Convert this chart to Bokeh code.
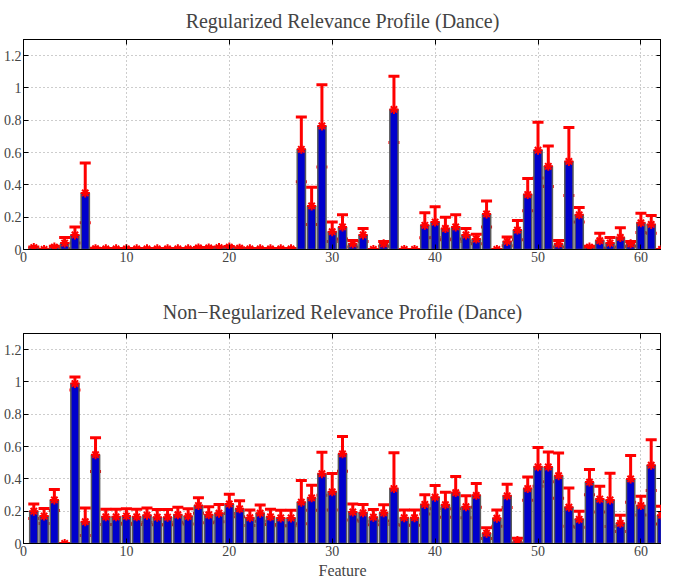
from bokeh.plotting import figure
from bokeh.models import (ColumnDataSource, Range1d, FixedTicker, LinearAxis,
                          Whisker, TeeHead)
from bokeh.layouts import column
from bokeh.embed import file_html
from bokeh.resources import INLINE

features = list(range(1, 63))

reg_vals = [0.012, 0.0, 0.015, 0.04, 0.09, 0.35, 0.005, 0.004, 0.004, 0.004,
            0.004, 0.004, 0.004, 0.004, 0.004, 0.004, 0.01, 0.01, 0.012, 0.015,
            0.008, 0.004, 0.004, 0.004, 0.004, 0.004, 0.62, 0.27, 0.765, 0.11,
            0.14, 0.035, 0.09, 0.0, 0.035, 0.867, 0.0, 0.0, 0.15, 0.17,
            0.13, 0.14, 0.09, 0.065, 0.22, 0.0, 0.05, 0.12, 0.34, 0.615,
            0.515, 0.035, 0.545, 0.215, 0.015, 0.055, 0.04, 0.075, 0.035, 0.165,
            0.155, 0.0]
reg_errs = [0.004, 0.0, 0.005, 0.035, 0.05, 0.185, 0.002, 0.002, 0.002, 0.002,
            0.002, 0.002, 0.002, 0.002, 0.002, 0.002, 0.003, 0.003, 0.003, 0.004,
            0.003, 0.002, 0.002, 0.002, 0.002, 0.002, 0.2, 0.115, 0.255, 0.06,
            0.075, 0.02, 0.04, 0.0, 0.015, 0.205, 0.0, 0.0, 0.077, 0.095,
            0.07, 0.075, 0.04, 0.03, 0.08, 0.0, 0.027, 0.06, 0.1, 0.172,
            0.125, 0.02, 0.21, 0.045, 0.005, 0.045, 0.035, 0.06, 0.015, 0.06,
            0.055, 0.0]

nonreg_vals = [0.2, 0.17, 0.27, 0.0, 0.99, 0.135, 0.55, 0.165, 0.165, 0.17,
               0.165, 0.175, 0.163, 0.163, 0.178, 0.168, 0.235, 0.178, 0.188, 0.245,
               0.215, 0.16, 0.188, 0.165, 0.158, 0.158, 0.256, 0.283, 0.432, 0.32,
               0.555, 0.195, 0.19, 0.163, 0.19, 0.34, 0.16, 0.16, 0.242, 0.287,
               0.24, 0.315, 0.228, 0.298, 0.064, 0.157, 0.295, 0.018, 0.34, 0.475,
               0.474, 0.42, 0.225, 0.15, 0.38, 0.275, 0.27, 0.125, 0.4, 0.235,
               0.485, 0.175]
nonreg_errs = [0.045, 0.046, 0.065, 0.0, 0.04, 0.085, 0.105, 0.047, 0.047, 0.045,
               0.047, 0.045, 0.047, 0.047, 0.047, 0.047, 0.048, 0.05, 0.053, 0.06,
               0.05, 0.048, 0.05, 0.047, 0.048, 0.048, 0.134, 0.077, 0.133, 0.113,
               0.107, 0.05, 0.052, 0.047, 0.05, 0.222, 0.047, 0.047, 0.06, 0.072,
               0.078, 0.1, 0.068, 0.073, 0.033, 0.05, 0.072, 0.015, 0.072, 0.12,
               0.092, 0.14, 0.118, 0.05, 0.078, 0.08, 0.165, 0.05, 0.144, 0.058,
               0.157, 0.055]

x_ticks = [0, 10, 20, 30, 40, 50, 60]
y_ticks = [0, 0.2, 0.4, 0.6, 0.8, 1, 1.2]
y_tick_labels = ["0", "0.2", "0.4", "0.6", "0.8", "1", "1.2"]

titles = ["Regularized Relevance Profile (Dance)",
          "Non\u2212Regularized Relevance Profile (Dance)"]

FONT = "Liberation Serif"


def make_panel(title, vals, errs, xlabel, border_top, border_bottom, standoff):
    src = ColumnDataSource(dict(
        x=features, top=vals,
        lower=[v - e for v, e in zip(vals, errs)],
        upper=[v + e for v, e in zip(vals, errs)]))
    p = figure(frame_width=638, frame_height=210,
               x_range=Range1d(0, 62), y_range=Range1d(0, 1.3),
               output_backend="svg", toolbar_location=None,
               min_border_left=0, min_border_right=0, min_border_top=border_top,
               min_border_bottom=border_bottom)
    p.title.text = title
    p.title.align = "center"
    p.title.text_font = FONT
    p.title.text_font_size = "20px"
    p.title.text_font_style = "normal"
    p.title.standoff = standoff
    p.title.offset = 0
    p.outline_line_color = "black"
    p.outline_line_width = 1
    p.background_fill_color = "white"

    for ax in (p.xaxis[0], p.yaxis[0]):
        ax.major_label_text_font = FONT
        ax.major_label_text_font_size = "14px"
        ax.major_tick_in = 5
        ax.major_tick_out = 0
        ax.minor_tick_in = 0
        ax.minor_tick_out = 0
        ax.major_label_standoff = 2
        ax.axis_line_color = "black"
    p.xaxis.ticker = FixedTicker(ticks=x_ticks)
    p.yaxis.ticker = FixedTicker(ticks=y_ticks)
    p.yaxis.major_label_overrides = {t: l for t, l in zip(y_ticks, y_tick_labels)}
    if xlabel:
        p.xaxis.axis_label = xlabel
        p.xaxis.axis_label_text_font = FONT
        p.xaxis.axis_label_text_font_size = "16px"
        p.xaxis.axis_label_text_font_style = "normal"
        p.xaxis.axis_label_standoff = 3

    top_ax = LinearAxis(ticker=FixedTicker(ticks=x_ticks),
                        major_label_overrides={t: "" for t in x_ticks},
                        major_tick_in=5,
                        major_tick_out=0, minor_tick_in=0, minor_tick_out=0,
                        axis_line_color="black", major_label_standoff=0)
    right_ax = LinearAxis(ticker=FixedTicker(ticks=y_ticks),
                          major_label_overrides={t: "" for t in y_ticks},
                          major_tick_in=5,
                          major_tick_out=0, minor_tick_in=0, minor_tick_out=0,
                          axis_line_color="black", major_label_standoff=0)
    p.add_layout(top_ax, "above")
    p.add_layout(right_ax, "right")

    for g in (p.xgrid[0], p.ygrid[0]):
        g.grid_line_color = "#9a9a9a"
        g.grid_line_dash = "1 3"
        g.grid_line_width = 1
    p.xgrid.ticker = FixedTicker(ticks=x_ticks)
    p.ygrid.ticker = FixedTicker(ticks=y_ticks)

    p.vbar(x="x", top="top", bottom=0, width=0.8, source=src,
           fill_color="#0000cc", line_color="#5a5a5a", line_width=1.5)
    w = Whisker(base="x", lower="lower", upper="upper", source=src,
                line_color="red", line_width=3,
                upper_head=TeeHead(size=11, line_color="red", line_width=3),
                lower_head=TeeHead(size=11, line_color="red", line_width=3))
    p.add_layout(w)
    p.scatter(x="x", y="top", source=src, marker="asterisk", size=9,
              line_color="red", line_width=2)
    return p


p1 = make_panel(titles[0], reg_vals, reg_errs, None, 35, 39, 15)
p2 = make_panel(titles[1], nonreg_vals, nonreg_errs, "Feature", 31, 0, 21)
layout = column(p1, p2, spacing=0)

open("out.html", "w").write(file_html(layout, INLINE))
